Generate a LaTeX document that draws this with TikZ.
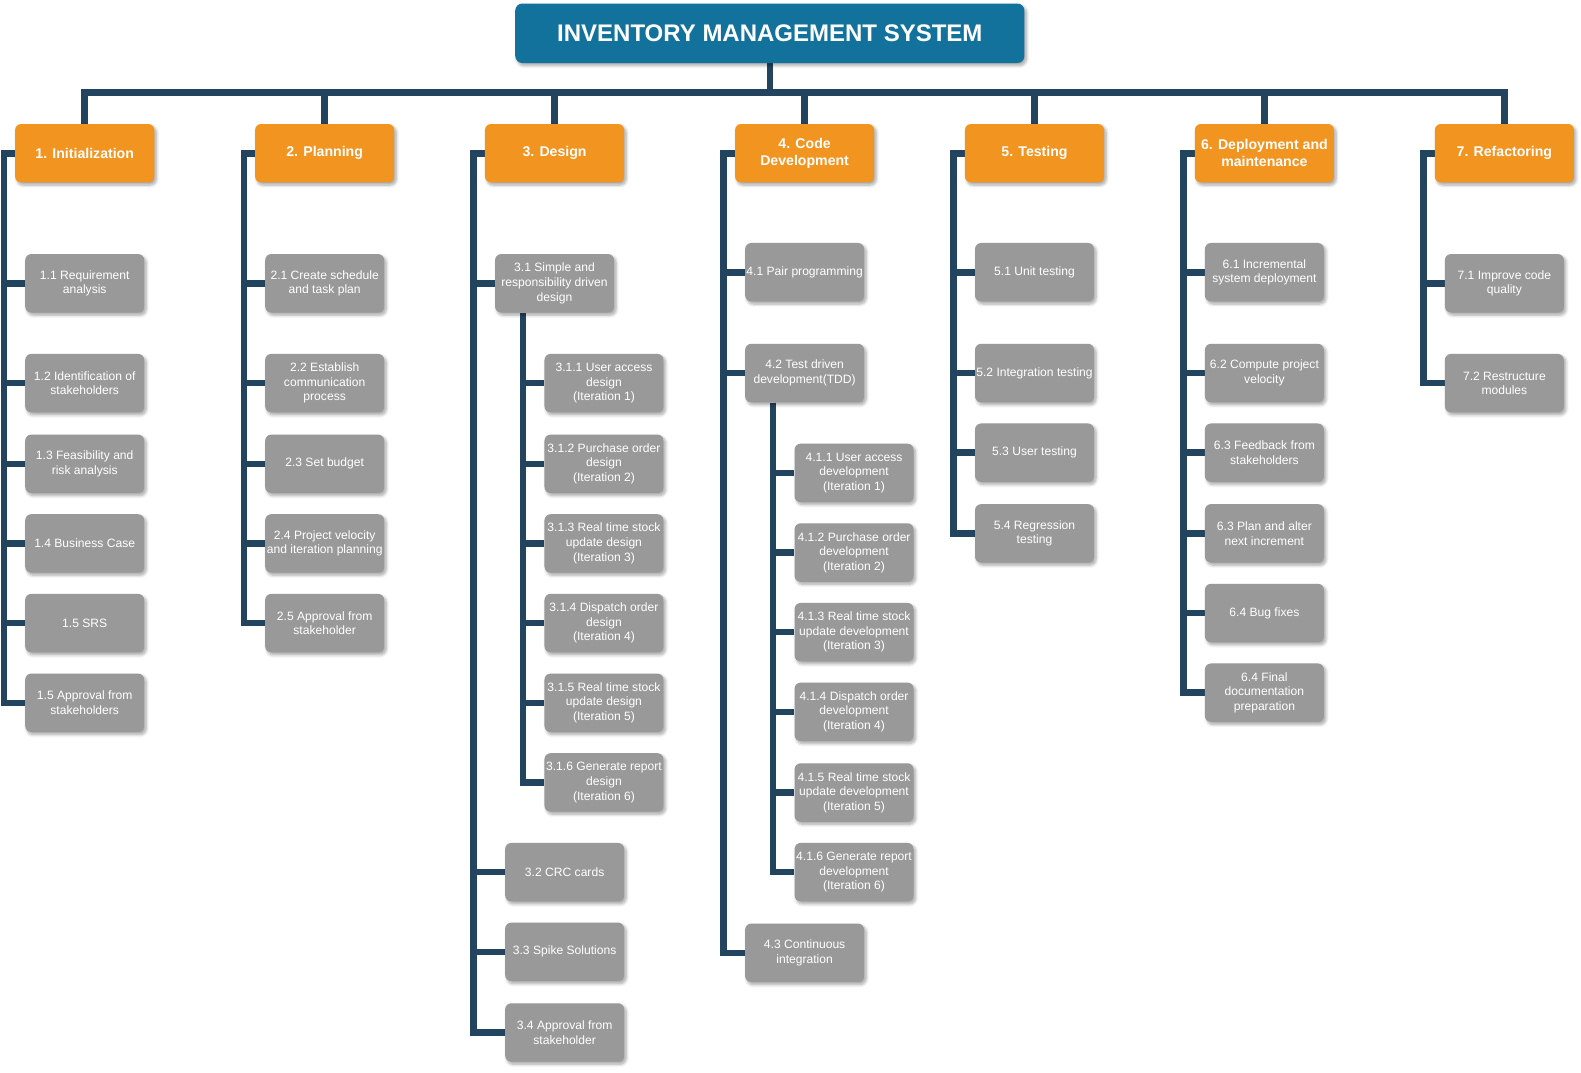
\documentclass[tikz,border=0pt]{standalone}
\usepackage{fontspec}
\setmainfont{Liberation Sans}
\usetikzlibrary{calc,backgrounds,shadows.blur}
\definecolor{titleblue}{HTML}{13729C}
\definecolor{orangec}{HTML}{F29420}
\definecolor{grayc}{HTML}{999999}
\definecolor{linec}{HTML}{23445E}
\tikzset{
  shd/.style={blur shadow={shadow xshift=2pt,shadow yshift=-2.5pt,shadow blur steps=6,shadow opacity=35,shadow blur radius=3pt}},
  topbox/.style={shd,fill=titleblue,rounded corners=7pt,minimum width=505pt,minimum height=59pt,text=white,font=\bfseries\fontsize{23.8}{28}\selectfont},
  phase/.style={shd,fill=orangec,rounded corners=6pt,minimum width=138pt,minimum height=58pt,text=white,align=center,inner sep=1pt,font=\bfseries\fontsize{14}{17}\selectfont},
  task/.style={shd,fill=grayc,rounded corners=6pt,minimum width=118pt,minimum height=58pt,text=white,align=center,inner sep=0.5pt,font=\fontsize{12}{14.5}\selectfont},
  conn/.style={draw=linec,line width=6.5pt,line join=miter}
}
\begin{document}
\begin{tikzpicture}[x=1pt,y=-1pt]
\useasboundingbox (0,0) rectangle (1568,1064);
\node[topbox] (T) at (763.5,33) {INVENTORY MANAGEMENT SYSTEM};
% phases
\node[phase] (P1) at (84,152) {1. Initialization};
\node[phase] (P2) at (322,152) {2. Planning};
\node[phase] (P3) at (550,152) {3. Design};
\node[phase] (P4) at (798,152) {4. Code\\Development};
\node[phase] (P5) at (1026,152) {5. Testing};
\node[phase] (P6) at (1254,152) {6. Deployment and\\maintenance};
\node[phase] (P7) at (1492,152) {7. Refactoring};
% column 1
\node[task] (A1) at (84,281) {1.1 Requirement\\analysis};
\node[task] (A2) at (84,380) {1.2 Identification of\\stakeholders};
\node[task] (A3) at (84,460) {1.3 Feasibility and\\risk analysis};
\node[task] (A4) at (84,539) {1.4 Business Case};
\node[task] (A5) at (84,618) {1.5 SRS};
\node[task] (A6) at (84,697) {1.5 Approval from\\stakeholders};
% column 2
\node[task] (B1) at (322,281) {2.1 Create schedule\\and task plan};
\node[task] (B2) at (322,380) {2.2 Establish\\communication\\process};
\node[task] (B3) at (322,460) {2.3 Set budget};
\node[task] (B4) at (322,539) {2.4 Project velocity\\and iteration planning};
\node[task] (B5) at (322,618) {2.5 Approval from\\stakeholder};
% column 3
\node[task] (C1) at (550,281) {3.1 Simple and\\responsibility driven\\design};
\node[task] (C11) at (599,380) {3.1.1 User access\\design\\(Iteration 1)};
\node[task] (C12) at (599,460) {3.1.2 Purchase order\\design\\(Iteration 2)};
\node[task] (C13) at (599,539) {3.1.3 Real time stock\\update design\\(Iteration 3)};
\node[task] (C14) at (599,618) {3.1.4 Dispatch order\\design\\(Iteration 4)};
\node[task] (C15) at (599,697) {3.1.5 Real time stock\\update design\\(Iteration 5)};
\node[task] (C16) at (599,776) {3.1.6 Generate report\\design\\(Iteration 6)};
\node[task] (C2) at (560,865) {3.2 CRC cards};
\node[task] (C3) at (560,944) {3.3 Spike Solutions};
\node[task] (C4) at (560,1024) {3.4 Approval from\\stakeholder};
% column 4
\node[task] (D1) at (798,270) {4.1 Pair programming};
\node[task] (D2) at (798,370) {4.2 Test driven\\development(TDD)};
\node[task] (D21) at (847,469) {4.1.1 User access\\development\\(Iteration 1)};
\node[task] (D22) at (847,548) {4.1.2 Purchase order\\development\\(Iteration 2)};
\node[task] (D23) at (847,627) {4.1.3 Real time stock\\update development\\(Iteration 3)};
\node[task] (D24) at (847,706) {4.1.4 Dispatch order\\development\\(Iteration 4)};
\node[task] (D25) at (847,786) {4.1.5 Real time stock\\update development\\(Iteration 5)};
\node[task] (D26) at (847,865) {4.1.6 Generate report\\development\\(Iteration 6)};
\node[task] (D3) at (798,945) {4.3 Continuous\\integration};
% column 5
\node[task] (E1) at (1026,270) {5.1 Unit testing};
\node[task] (E2) at (1026,370) {5.2 Integration testing};
\node[task] (E3) at (1026,449) {5.3 User testing};
\node[task] (E4) at (1026,529) {5.4 Regression\\testing};
% column 6
\node[task] (F1) at (1254,270) {6.1 Incremental\\system deployment};
\node[task] (F2) at (1254,370) {6.2 Compute project\\velocity};
\node[task] (F3) at (1254,449) {6.3 Feedback from\\stakeholders};
\node[task] (F4) at (1254,529) {6.3 Plan and alter\\next increment};
\node[task] (F5) at (1254,608) {6.4 Bug fixes};
\node[task] (F6) at (1254,687) {6.4 Final\\documentation\\preparation};
% column 7
\node[task] (G1) at (1492,281) {7.1 Improve code\\quality};
\node[task] (G2) at (1492,380) {7.2 Restructure\\modules};
% connectors
\begin{scope}[on background layer]
\coordinate (bar) at (763.5,91.5);
\foreach \p in {P1,P2,P3,P4,P5,P6,P7}
  \draw[conn] (T.south) |- (\p.north |- bar) -- (\p.north);
\foreach \p/\cl in {P1/{A1,A2,A3,A4,A5,A6},P2/{B1,B2,B3,B4,B5},P3/{C1,C2,C3,C4},P4/{D1,D2,D3},P5/{E1,E2,E3,E4},P6/{F1,F2,F3,F4,F5,F6},P7/{G1,G2}}
  \foreach \c in \cl
    \draw[conn] (\p.west) -- ++(-11,0) |- (\c.west);
\foreach \c in {C11,C12,C13,C14,C15,C16}
  \draw[conn] ($(C1.south west)+(28,0)$) |- (\c.west);
\foreach \c in {D21,D22,D23,D24,D25,D26}
  \draw[conn] ($(D2.south west)+(28,0)$) |- (\c.west);
\end{scope}
\end{tikzpicture}
\end{document}
